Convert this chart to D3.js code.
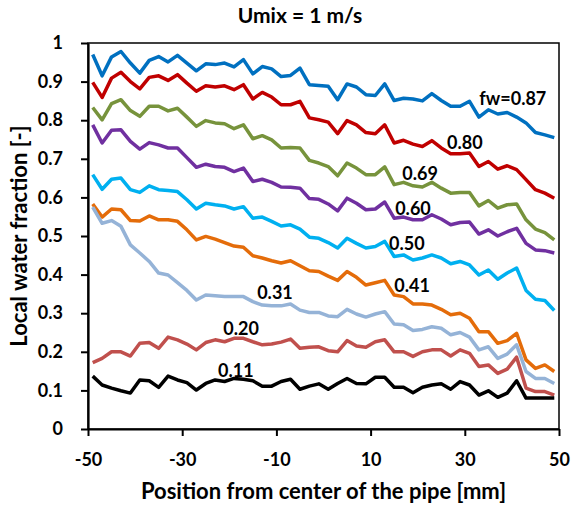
<!DOCTYPE html>
<html>
<head>
<meta charset="utf-8">
<script src="https://cdn.jsdelivr.net/npm/d3@7"></script>
<style>
  body { margin: 0; background: #fff; }
  svg text { font-family: Lato, "Open Sans", sans-serif; font-weight: 700; fill: #000; }
</style>
</head>
<body>
<svg width="573" height="506"></svg>
<script>
// positions across the pipe [mm]
const positions = [-49,-47,-45,-43,-41,-39,-37,-35,-33,-31,-29,-27,-25,-23,-21,-19,-17,-15,-13,-11,-9,-7,-5,-3,-1,
  1,3,5,7,9,11,13,15,17,19,21,23,25,27,29,31,33,35,37,39,41,43,45,47,49];

// local water fraction for each inlet water cut
const fw087 = [0.970,0.915,0.964,0.978,0.948,0.922,0.955,0.965,0.951,0.968,0.948,0.928,0.946,0.944,0.948,0.938,0.957,0.920,0.939,0.933,0.913,0.916,0.935,0.892,0.890,
  0.888,0.853,0.894,0.886,0.866,0.864,0.894,0.851,0.857,0.855,0.850,0.869,0.851,0.836,0.836,0.849,0.808,0.827,0.816,0.820,0.808,0.793,0.768,0.762,0.755];
const fw080 = [0.898,0.859,0.909,0.924,0.900,0.881,0.911,0.915,0.903,0.918,0.896,0.875,0.889,0.886,0.889,0.879,0.892,0.855,0.872,0.860,0.840,0.840,0.849,0.806,0.801,
  0.795,0.765,0.799,0.788,0.768,0.765,0.788,0.741,0.748,0.738,0.732,0.747,0.728,0.713,0.713,0.715,0.680,0.693,0.673,0.682,0.672,0.646,0.620,0.611,0.598];
const fw069 = [0.833,0.801,0.843,0.853,0.825,0.810,0.836,0.836,0.824,0.831,0.808,0.784,0.799,0.793,0.791,0.778,0.788,0.752,0.760,0.749,0.728,0.729,0.728,0.696,0.689,
  0.680,0.656,0.689,0.676,0.659,0.659,0.679,0.633,0.639,0.630,0.627,0.639,0.624,0.611,0.613,0.613,0.578,0.592,0.572,0.581,0.583,0.542,0.518,0.509,0.490];
const fw060 = [0.788,0.741,0.774,0.775,0.745,0.725,0.742,0.736,0.728,0.728,0.703,0.678,0.686,0.680,0.678,0.667,0.676,0.641,0.647,0.639,0.627,0.626,0.624,0.597,0.595,
  0.583,0.565,0.598,0.585,0.568,0.570,0.588,0.546,0.549,0.542,0.542,0.555,0.544,0.529,0.535,0.536,0.505,0.516,0.500,0.511,0.520,0.481,0.464,0.462,0.456];
const fw050 = [0.659,0.621,0.647,0.650,0.620,0.613,0.630,0.620,0.618,0.615,0.594,0.570,0.585,0.581,0.578,0.570,0.576,0.546,0.549,0.538,0.526,0.529,0.518,0.497,0.494,
  0.483,0.469,0.494,0.481,0.469,0.473,0.486,0.447,0.451,0.438,0.443,0.451,0.443,0.428,0.434,0.425,0.399,0.412,0.388,0.404,0.417,0.359,0.336,0.333,0.307];
const fw041 = [0.583,0.549,0.570,0.568,0.540,0.539,0.552,0.542,0.542,0.538,0.516,0.490,0.499,0.492,0.483,0.474,0.471,0.449,0.443,0.436,0.430,0.436,0.423,0.410,0.408,
  0.396,0.385,0.408,0.393,0.373,0.379,0.385,0.347,0.343,0.324,0.324,0.321,0.310,0.296,0.300,0.287,0.252,0.252,0.222,0.229,0.248,0.179,0.157,0.166,0.149];
const fw031 = [0.575,0.533,0.540,0.525,0.477,0.456,0.434,0.404,0.399,0.379,0.359,0.334,0.347,0.345,0.343,0.343,0.343,0.330,0.321,0.319,0.319,0.324,0.308,0.302,0.302,
  0.293,0.291,0.310,0.298,0.290,0.298,0.304,0.272,0.270,0.255,0.258,0.265,0.261,0.244,0.250,0.238,0.205,0.213,0.183,0.194,0.218,0.149,0.131,0.131,0.118];
const fw020 = [0.172,0.183,0.200,0.200,0.189,0.222,0.224,0.209,0.238,0.231,0.220,0.205,0.224,0.231,0.226,0.235,0.235,0.226,0.218,0.220,0.225,0.233,0.209,0.212,0.213,
  0.203,0.200,0.229,0.215,0.212,0.226,0.231,0.200,0.200,0.188,0.200,0.205,0.205,0.189,0.205,0.196,0.162,0.166,0.144,0.155,0.186,0.106,0.097,0.097,0.088];
const fw011 = [0.137,0.114,0.106,0.099,0.093,0.127,0.125,0.108,0.137,0.127,0.120,0.101,0.118,0.127,0.123,0.131,0.129,0.125,0.111,0.111,0.123,0.129,0.103,0.111,0.117,
  0.103,0.118,0.131,0.118,0.117,0.134,0.134,0.108,0.108,0.094,0.108,0.114,0.117,0.103,0.123,0.114,0.088,0.099,0.082,0.093,0.125,0.080,0.080,0.080,0.080];

const seriesLabels = ["fw=0.87","0.80","0.69","0.60","0.50","0.41","0.31","0.20","0.11"];
const xTicks = [-50,-30,-10,10,30,50];
const yTicks = [0,0.1,0.2,0.3,0.4,0.5,0.6,0.7,0.8,0.9,1];

const series = [fw087, fw080, fw069, fw060, fw050, fw041, fw031, fw020, fw011];
const colors = ["#0070C0","#C00000","#77933C","#7030A0","#00B0F0","#E46C0A","#95B3D7","#C0504D","#000000"];
// where each label sits, in data units [mm, fraction]
const labelAt = [[40.2,0.858],[30.0,0.744],[20.5,0.664],[19.0,0.573],[17.7,0.482],[18.8,0.373],[-10.3,0.355],[-17.5,0.262],[-18.6,0.153]];

const svg = d3.select("svg");
const m = { left: 88, right: 559, top: 43, bottom: 429 };

const x = d3.scaleLinear().domain([-50, 50]).range([m.left, m.right]);
const y = d3.scaleLinear().domain([0, 1]).range([m.bottom, m.top]);

// plot frame
svg.append("rect")
  .attr("x", m.left).attr("y", m.top)
  .attr("width", m.right - m.left).attr("height", m.bottom - m.top)
  .attr("fill", "none").attr("stroke", "#000").attr("stroke-width", 1.5);

const line = d3.line()
  .x((d, i) => x(positions[i]))
  .y(d => y(d));

svg.append("g").selectAll("path")
  .data(series)
  .enter().append("path")
  .attr("d", line)
  .attr("fill", "none")
  .attr("stroke", (d, i) => colors[i])
  .attr("stroke-width", 3.5)
  .attr("stroke-linejoin", "round");

const xAxis = svg.append("g")
  .attr("transform", `translate(0,${m.bottom})`)
  .call(d3.axisBottom(x).tickValues(xTicks).tickFormat(d => String(d)).tickSize(7).tickSizeOuter(0).tickPadding(17));
const yAxis = svg.append("g")
  .attr("transform", `translate(${m.left},0)`)
  .call(d3.axisLeft(y).tickValues(yTicks).tickFormat(d => String(d)).tickSize(7).tickSizeOuter(0).tickPadding(18));

[xAxis, yAxis].forEach(g => {
  g.select(".domain").attr("stroke", "#000").attr("stroke-width", 2.2);
  g.selectAll(".tick line").attr("stroke", "#000").attr("stroke-width", 2);
  g.selectAll(".tick text")
    .attr("fill", "#000")
    .style("font-family", "Lato, 'Open Sans', sans-serif")
    .style("font-weight", 700)
    .style("font-size", "18px");
});

// line labels
svg.append("g").selectAll("text")
  .data(seriesLabels)
  .enter().append("text")
  .attr("x", (d, i) => x(labelAt[i][0]))
  .attr("y", (d, i) => y(labelAt[i][1]))
  .attr("text-anchor", "middle")
  .attr("dominant-baseline", "central")
  .style("font-size", "18px")
  .text(d => d);

svg.append("text")
  .attr("x", 300).attr("y", 23)
  .attr("text-anchor", "middle")
  .style("font-size", "21px")
  .text("Umix = 1 m/s");

svg.append("text")
  .attr("x", (m.left + m.right) / 2).attr("y", 499)
  .attr("text-anchor", "middle")
  .style("font-size", "22px")
  .text("Position from center of the pipe [mm]");

svg.append("text")
  .attr("transform", `translate(27,${(m.top + m.bottom) / 2}) rotate(-90)`)
  .attr("text-anchor", "middle")
  .style("font-size", "22px")
  .text("Local water fraction [-]");
</script>
</body>
</html>
